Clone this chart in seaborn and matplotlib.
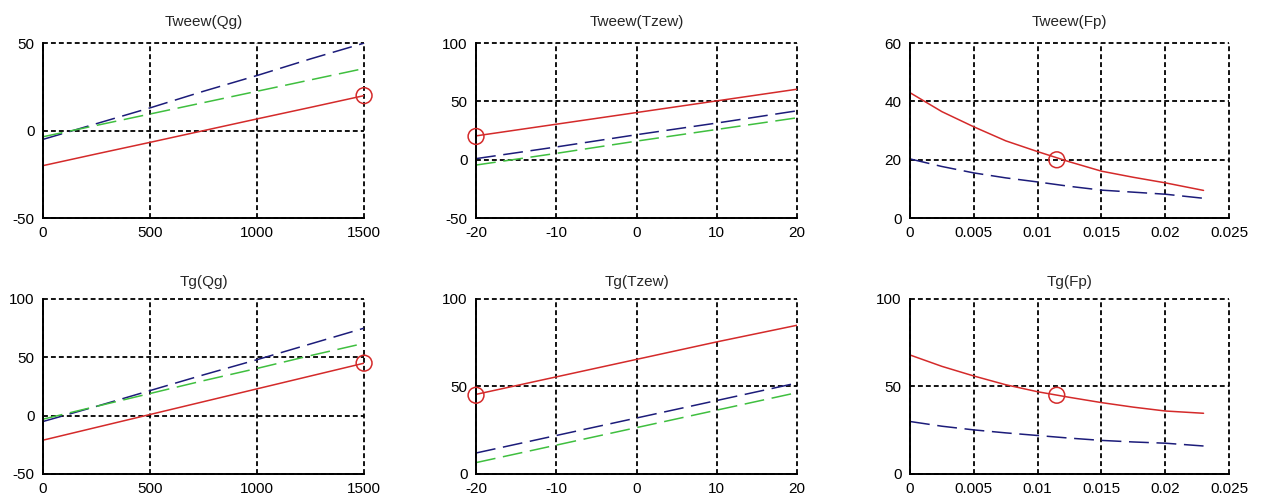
import numpy as np
import pandas as pd
import seaborn as sns
import matplotlib.pyplot as plt

# ---- dane ----
qg = [0, 250, 500, 750, 1000, 1250, 1500]
tzew = [-20, -10, 0, 10, 20]
fp = [0, 0.0025, 0.005, 0.0075, 0.01, 0.0125, 0.015, 0.0175, 0.02, 0.023]

# Tweew(Qg)
tweew_qg_red = [-20, -13.3, -6.7, 0, 6.7, 13.3, 20]
tweew_qg_blue = [-5, 4, 13, 22.5, 31.5, 41, 50]
tweew_qg_green = [-3.5, 3, 9.5, 16, 22.5, 29, 35.5]

# Tweew(Tzew)
tweew_tz_red = [20.5, 30.5, 40.5, 50.5, 60.5]
tweew_tz_blue = [1, 11, 21.5, 31.5, 42]
tweew_tz_green = [-4.5, 5.5, 16, 26, 36]

# Tweew(Fp)
tweew_fp_red = [43, 36.5, 31.3, 26.5, 22.8, 19.3, 16.1, 14, 12.1, 9.5]
tweew_fp_blue = [20.3, 17.7, 15.5, 13.8, 12.4, 10.9, 9.6, 8.9, 8.2, 6.8]

# Tg(Qg)
tg_qg_red = [-21, -10, 1, 12, 23, 34, 45]
tg_qg_blue = [-5, 8, 21.5, 35, 48, 61.5, 75]
tg_qg_green = [-3, 8, 19, 30, 40.5, 51.5, 62]

# Tg(Tzew)
tg_tz_red = [45.5, 55.5, 65.5, 75.5, 85]
tg_tz_blue = [12, 22, 32, 42, 52]
tg_tz_green = [6.5, 16.5, 26.5, 36.5, 46.5]

# Tg(Fp)
tg_fp_red = [68, 61.5, 56, 51, 47, 43.8, 40.8, 38.2, 36, 34.7]
tg_fp_blue = [30, 27.3, 25.2, 23.5, 22, 20.5, 19.2, 18.3, 17.6, 16]

# punkty pracy (kolka)
point_qg = [1500]
point_tz = [-20]
point_fp = [0.0115]
point_tweew = [20]
point_tg = [45]

titles = ["Tweew(Qg)", "Tweew(Tzew)", "Tweew(Fp)", "Tg(Qg)", "Tg(Tzew)", "Tg(Fp)"]

RED = "#d42a2a"
BLUE = "#1c1c7a"
GREEN = "#3fbf3f"

sns.set_style("white")
plt.rcParams["font.family"] = ["Liberation Sans", "DejaVu Sans"]
plt.rcParams["axes.unicode_minus"] = False

fig = plt.figure(figsize=(12.62, 4.98), dpi=100)

positions = [
    [0.0341, 0.562, 0.2544, 0.3514],
    [0.3772, 0.562, 0.2544, 0.3514],
    [0.7211, 0.562, 0.2528, 0.3514],
    [0.0341, 0.0482, 0.2544, 0.3514],
    [0.3772, 0.0482, 0.2544, 0.3514],
    [0.7211, 0.0482, 0.2528, 0.3514],
]

panels = [
    (qg, [(tweew_qg_red, RED, "-"), (tweew_qg_blue, BLUE, "--"), (tweew_qg_green, GREEN, "--")],
     point_qg, point_tweew, (0, 1500), [0, 500, 1000, 1500], (-50, 50), [-50, 0, 50]),
    (tzew, [(tweew_tz_red, RED, "-"), (tweew_tz_blue, BLUE, "--"), (tweew_tz_green, GREEN, "--")],
     point_tz, point_tweew, (-20, 20), [-20, -10, 0, 10, 20], (-50, 100), [-50, 0, 50, 100]),
    (fp, [(tweew_fp_red, RED, "-"), (tweew_fp_blue, BLUE, "--")],
     point_fp, point_tweew, (0, 0.025), [0, 0.005, 0.01, 0.015, 0.02, 0.025], (0, 60), [0, 20, 40, 60]),
    (qg, [(tg_qg_red, RED, "-"), (tg_qg_blue, BLUE, "--"), (tg_qg_green, GREEN, "--")],
     point_qg, point_tg, (0, 1500), [0, 500, 1000, 1500], (-50, 100), [-50, 0, 50, 100]),
    (tzew, [(tg_tz_red, RED, "-"), (tg_tz_blue, BLUE, "--"), (tg_tz_green, GREEN, "--")],
     point_tz, point_tg, (-20, 20), [-20, -10, 0, 10, 20], (0, 100), [0, 50, 100]),
    (fp, [(tg_fp_red, RED, "-"), (tg_fp_blue, BLUE, "--")],
     point_fp, point_tg, (0, 0.025), [0, 0.005, 0.01, 0.015, 0.02, 0.025], (0, 100), [0, 50, 100]),
]

for i, (xs, lines, px, py, xlim, xticks, ylim, yticks) in enumerate(panels):
    ax = fig.add_axes(positions[i])
    for ys, col, ls in lines:
        df = pd.DataFrame({"x": xs, "y": ys})
        l = sns.lineplot(data=df, x="x", y="y", ax=ax, color=col, linewidth=1.1)
        if ls == "--":
            l.lines[-1].set_dashes([13, 5])
    sns.scatterplot(x=px, y=py, ax=ax, marker="o", s=130, facecolor="none",
                    edgecolor=RED, linewidth=1.1, zorder=5, clip_on=False)
    ax.set_xlim(xlim)
    ax.set_ylim(ylim)
    ax.set_xticks(xticks)
    ax.set_yticks(yticks)
    ax.set_xticklabels([f"{t:g}" for t in xticks])
    ax.set_xlabel("")
    ax.set_ylabel("")
    ax.set_title(titles[i], fontsize=11, pad=12 if i < 3 else 9)
    ax.grid(True, color="black", linestyle=(0, (2.7, 1.7)), linewidth=1.3)
    ax.set_axisbelow(True)
    # linie siatki na brzegach nie moga byc przyciete
    for gl in ax.get_xgridlines() + ax.get_ygridlines():
        gl.set_clip_on(False)
    for side in ["top", "right"]:
        ax.spines[side].set_visible(False)
    for side in ["left", "bottom"]:
        ax.spines[side].set_color("black")
        ax.spines[side].set_linewidth(1.4)
    ax.tick_params(length=0, labelsize=11, colors="black", pad=6)

fig.savefig("out.png", dpi=100)
